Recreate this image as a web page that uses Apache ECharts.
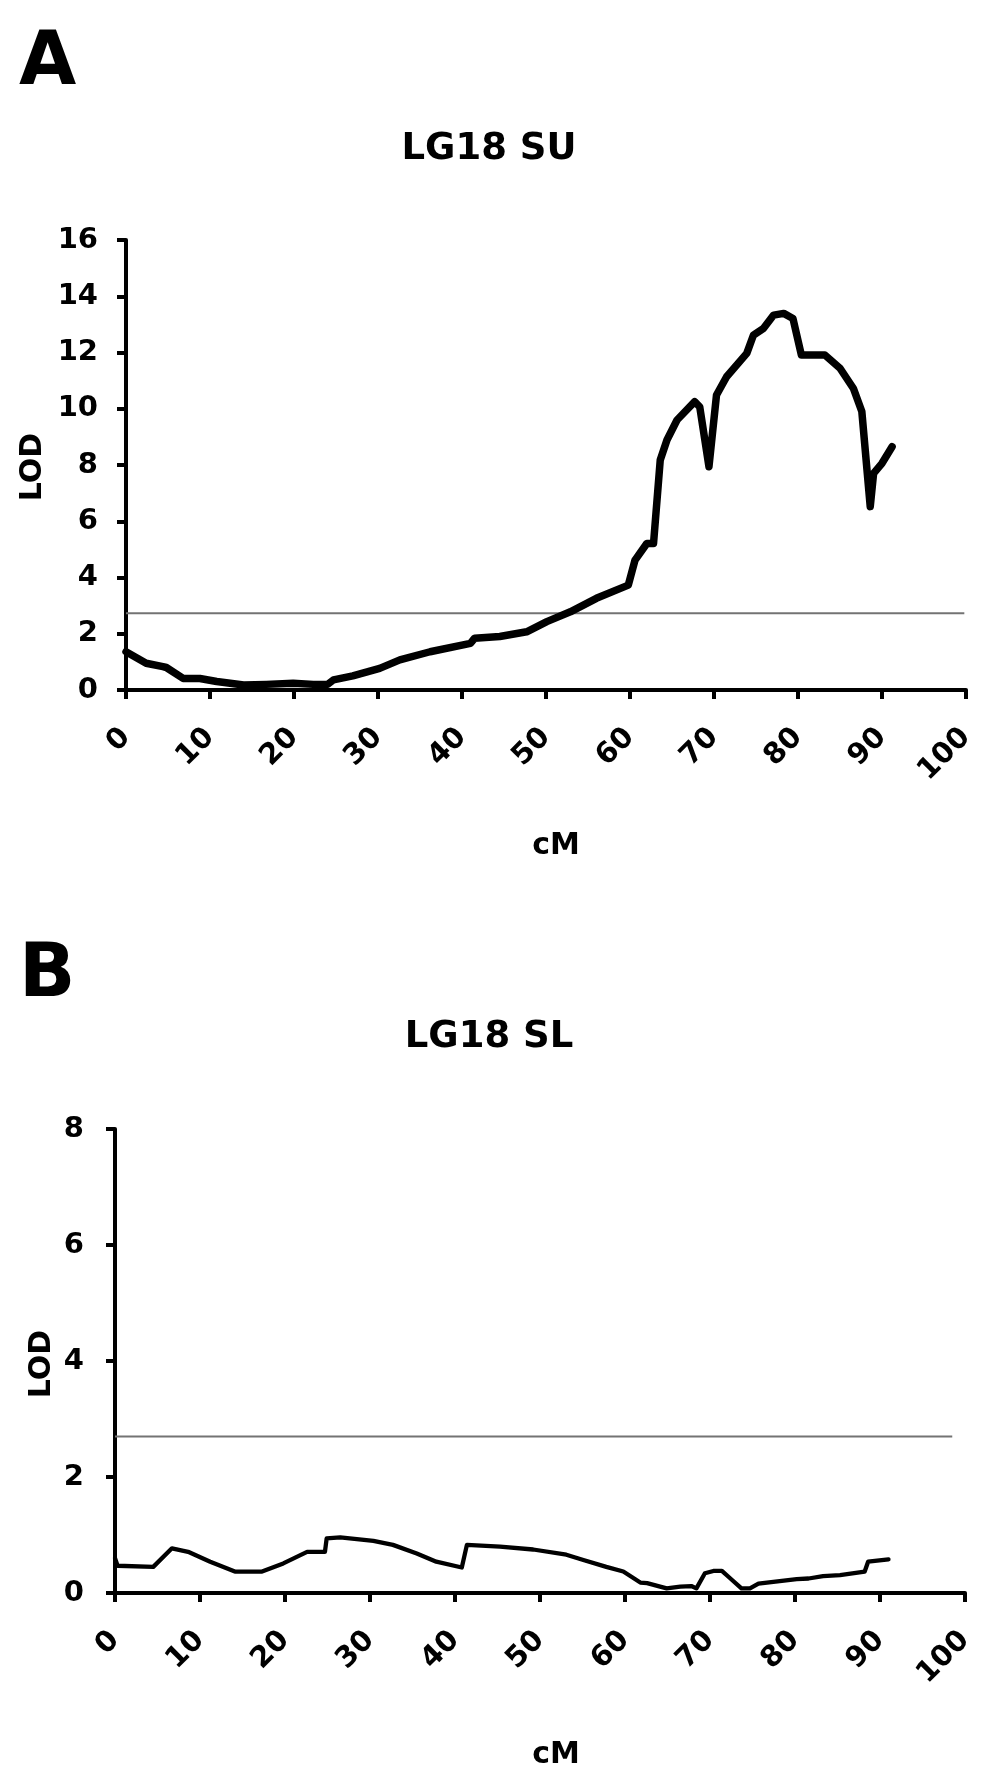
<!DOCTYPE html>
<html>
<head>
<meta charset="utf-8">
<script src="https://cdn.jsdelivr.net/npm/echarts@6/dist/echarts.min.js"></script>
<style>
html,body{margin:0;padding:0;background:#fff;}
#chart{width:997px;height:1779px;}
</style>
</head>
<body>
<div id="chart"></div>
<script>
// Panel A: LG18 SU  [cM, LOD]
const suCM  = [0, 2.4, 4.4, 4.8, 6.8, 8.8, 10.8, 14, 16.7, 19.9, 22.3, 24, 24.7, 27, 30.2, 32.6, 36.2, 41, 41.5, 44.5, 47.7, 50.1, 52.9, 56, 59.8, 60.6, 62, 62.8, 63.6, 64.4, 65.6, 67.7, 68.3, 69.4, 70.3, 71.5, 73.9, 74.7, 75.9, 77.1, 78.3, 79.4, 80.4, 83.2, 85, 86.6, 87.6, 88.6, 89, 90, 91.2];
const suLOD = [1.36, 0.95, 0.83, 0.8, 0.41, 0.41, 0.3, 0.18, 0.2, 0.24, 0.2, 0.2, 0.36, 0.5, 0.77, 1.07, 1.36, 1.66, 1.84, 1.9, 2.07, 2.43, 2.78, 3.26, 3.73, 4.62, 5.21, 5.21, 8.18, 8.89, 9.6, 10.25, 10.07, 7.94, 10.49, 11.14, 11.97, 12.62, 12.86, 13.33, 13.39, 13.21, 11.91, 11.91, 11.44, 10.72, 9.9, 6.52, 7.7, 8.06, 8.65];
// Panel B: LG18 SL  [cM, LOD]
const slCM  = [0, 0.3, 4.5, 6.7, 8.6, 11.2, 14.1, 17.3, 19.8, 22.6, 24.7, 24.9, 26.5, 30.4, 32.7, 35.5, 37.8, 40.8, 41.4, 45.3, 49.2, 53.1, 55.1, 57.8, 59.8, 61.8, 62.6, 64.9, 66.5, 67.8, 68.4, 69.4, 70.4, 71.4, 72.4, 73.7, 74.7, 75.7, 80.2, 81.6, 83.3, 85.3, 88.2, 88.6, 91];
const slLOD = [0.6, 0.47, 0.45, 0.77, 0.71, 0.54, 0.37, 0.37, 0.51, 0.71, 0.71, 0.94, 0.96, 0.9, 0.83, 0.68, 0.54, 0.44, 0.83, 0.8, 0.75, 0.66, 0.57, 0.45, 0.37, 0.18, 0.17, 0.08, 0.11, 0.12, 0.08, 0.34, 0.38, 0.38, 0.25, 0.08, 0.08, 0.16, 0.24, 0.25, 0.29, 0.31, 0.37, 0.54, 0.58];
// Significance thresholds [cM start, cM end], LOD
const thrA_CM = [0, 99.8], thrA_LOD = 2.73;
const thrB_CM = [0, 98.5], thrB_LOD = 2.7;
// Axis ranges / tick labels
const xTicks = [0, 10, 20, 30, 40, 50, 60, 70, 80, 90, 100];
const yTicksA = [0, 2, 4, 6, 8, 10, 12, 14, 16];
const yTicksB = [0, 2, 4, 6, 8];
const titles = ['LG18 SU', 'LG18 SL'];
const panelLabels = ['A', 'B'];

const FONT = '"DejaVu Sans", Verdana, sans-serif';
const zip = (a, b) => a.map((v, i) => [v, b[i]]);

function xAxis(gridIndex) {
  return {
    type: 'value', gridIndex: gridIndex,
    min: xTicks[0], max: xTicks[xTicks.length - 1], interval: xTicks[1] - xTicks[0],
    axisLine: { show: true, onZero: false, lineStyle: { color: '#000', width: 4 } },
    axisTick: { show: true, length: 9, lineStyle: { color: '#000', width: 4 } },
    axisLabel: { rotate: 45, margin: 43, color: '#000', fontFamily: FONT, fontWeight: 'bold', fontSize: 29 },
    splitLine: { show: false }
  };
}
function yAxis(gridIndex, ticks, margin) {
  return {
    type: 'value', gridIndex: gridIndex,
    min: ticks[0], max: ticks[ticks.length - 1], interval: ticks[1] - ticks[0],
    axisLine: { show: true, lineStyle: { color: '#000', width: 4 } },
    axisTick: { show: true, length: 9, lineStyle: { color: '#000', width: 4 } },
    axisLabel: { margin: margin, color: '#000', fontFamily: FONT, fontWeight: 'bold', fontSize: 29 },
    splitLine: { show: false }
  };
}

const chart = echarts.init(document.getElementById('chart'), null, { renderer: 'canvas' });
const textStyle = (size) => ({ fill: '#000', font: 'bold ' + size + 'px ' + FONT });
const centered = (txt, size) => Object.assign({ text: txt, textAlign: 'center', textVerticalAlign: 'middle' }, textStyle(size));

chart.setOption({
  backgroundColor: '#fff',
  animation: false,
  grid: [
    { left: 126, top: 240, width: 840, height: 450 },
    { left: 115, top: 1129, width: 850, height: 464 }
  ],
  xAxis: [xAxis(0), xAxis(1)],
  yAxis: [yAxis(0, yTicksA, 28), yAxis(1, yTicksB, 31)],
  series: [
    { type: 'line', xAxisIndex: 0, yAxisIndex: 0, data: zip(suCM, suLOD), showSymbol: false, clip: false,
      lineStyle: { color: '#000', width: 7.5, join: 'round', cap: 'round' }, z: 3 },
    { type: 'line', xAxisIndex: 0, yAxisIndex: 0, data: thrA_CM.map(c => [c, thrA_LOD]), showSymbol: false,
      lineStyle: { color: '#737373', width: 2 }, z: 2 },
    { type: 'line', xAxisIndex: 1, yAxisIndex: 1, data: zip(slCM, slLOD), showSymbol: false, clip: false,
      lineStyle: { color: '#000', width: 4.3, join: 'round', cap: 'round' }, z: 3 },
    { type: 'line', xAxisIndex: 1, yAxisIndex: 1, data: thrB_CM.map(c => [c, thrB_LOD]), showSymbol: false,
      lineStyle: { color: '#737373', width: 2 }, z: 2 }
  ],
  graphic: [
    { type: 'text', left: 19, top: 28, style: Object.assign({ text: panelLabels[0] }, textStyle(74)) },
    { type: 'text', left: 19, top: 940, style: Object.assign({ text: panelLabels[1] }, textStyle(74)) },
    { type: 'text', x: 489, y: 149, style: centered(titles[0], 37) },
    { type: 'text', x: 489, y: 1037, style: centered(titles[1], 37) },
    { type: 'text', x: 556, y: 846, style: centered('cM', 30) },
    { type: 'text', x: 556, y: 1755, style: centered('cM', 30) },
    { type: 'text', x: 33, y: 467, rotation: Math.PI / 2, style: centered('LOD', 30) },
    { type: 'text', x: 42, y: 1364, rotation: Math.PI / 2, style: centered('LOD', 30) }
  ]
});
</script>
</body>
</html>
